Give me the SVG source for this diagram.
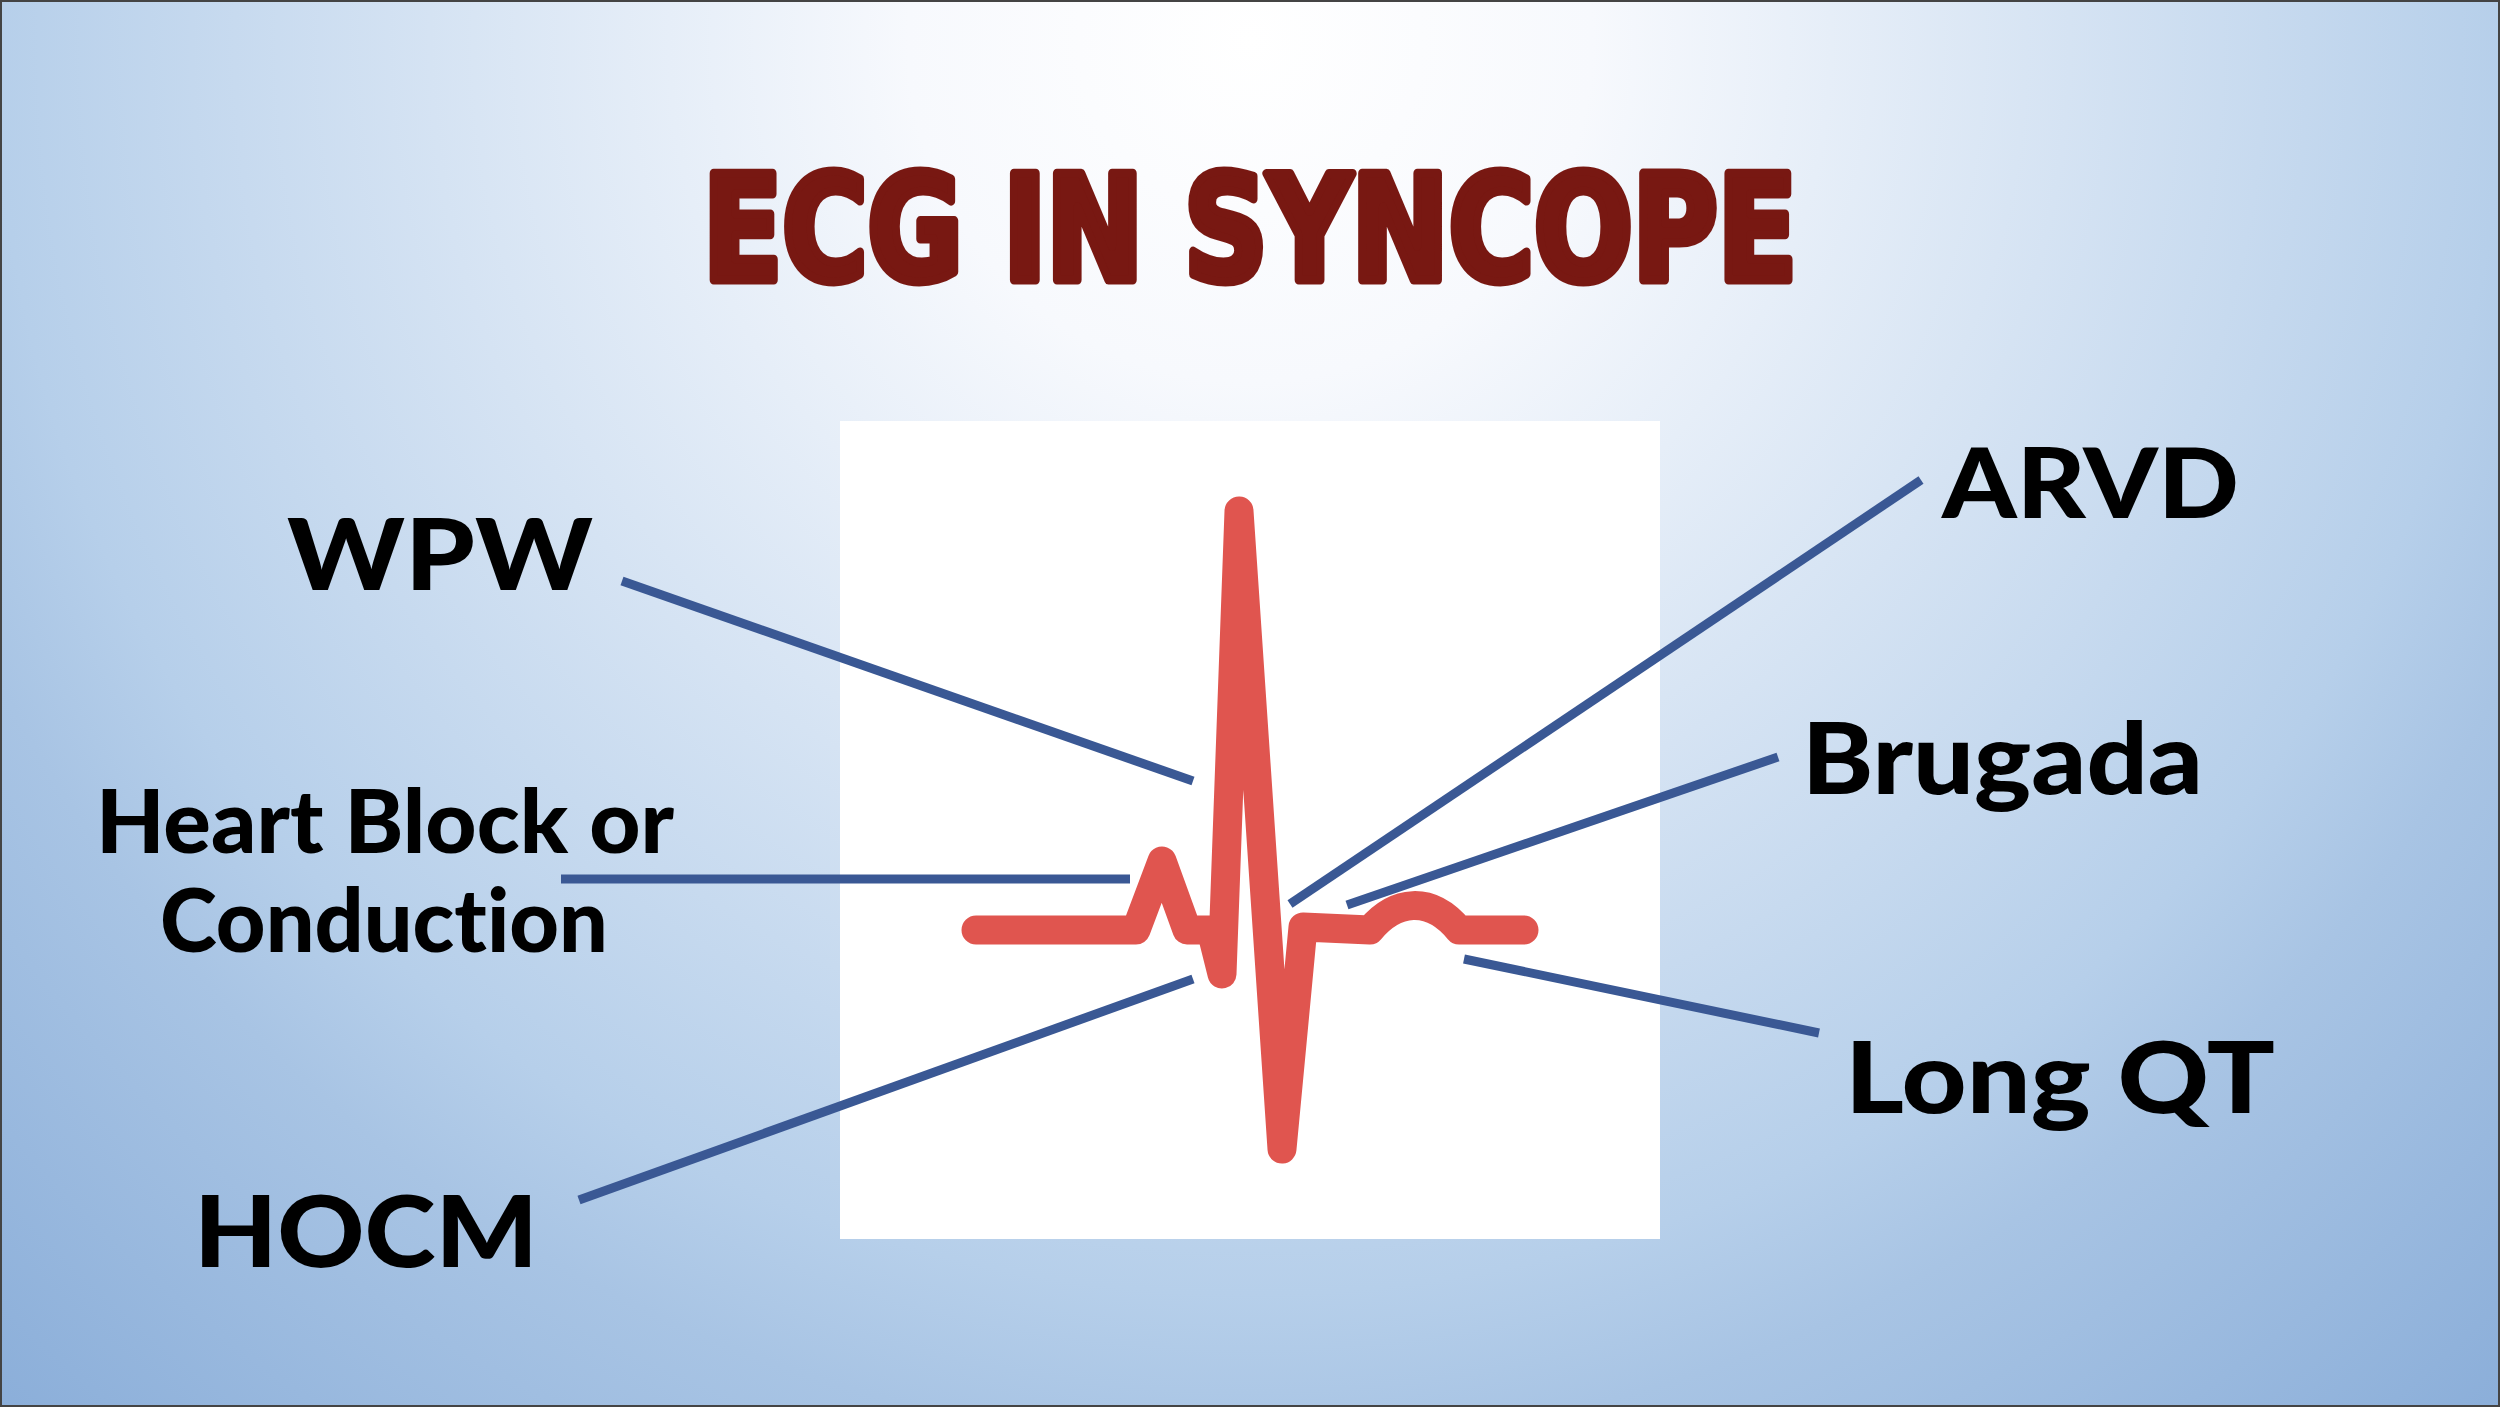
<svg xmlns="http://www.w3.org/2000/svg" width="2500" height="1407" viewBox="0 0 2500 1407">
<defs>
<radialGradient id="bg" gradientUnits="userSpaceOnUse" cx="1250" cy="40" r="1900">
<stop offset="0" stop-color="#ffffff"/>
<stop offset="0.18" stop-color="#f7f9fd"/>
<stop offset="0.66" stop-color="#b6cfea"/>
<stop offset="0.74" stop-color="#a8c4e4"/>
<stop offset="1" stop-color="#88acd8"/>
</radialGradient>
<style>
.lbl{font-family:"Lato","Open Sans","Liberation Sans",sans-serif;font-weight:900;fill:#000;font-variant-ligatures:none;}
.con{stroke:#3a5894;stroke-width:9;fill:none;}
.title{font-family:"DejaVu Sans Condensed","DejaVu Sans","Liberation Sans",sans-serif;font-weight:bold;fill:#781812;stroke:#781812;stroke-width:9;stroke-linejoin:round;}
</style>
</defs>
<rect x="0" y="0" width="2500" height="1407" fill="url(#bg)"/>
<rect x="1" y="1" width="2498" height="1405" fill="none" stroke="#444" stroke-width="2"/>
<text class="title" x="703" y="280" font-size="146" textLength="1094" lengthAdjust="spacingAndGlyphs">ECG IN SYNCOPE</text>
<g id="ecg-panel">
<rect x="840" y="421" width="820" height="818" fill="#ffffff"/>
<path d="M976,930 L1136,930 L1162,861 L1187,930 L1211,930 L1222,974 L1239,511 L1282,1149 L1303,927 L1370,930 C1395,900 1430,895 1459,930 L1524,930" fill="none" stroke="#e0554f" stroke-width="29" stroke-linejoin="round" stroke-linecap="round"/>
</g>
<g id="connectors">
<line class="con" x1="622" y1="581" x2="1193" y2="781"/>
<line class="con" x1="561" y1="879" x2="1130" y2="879"/>
<line class="con" x1="579" y1="1200" x2="1193" y2="979"/>
<line class="con" x1="1290" y1="904" x2="1921" y2="480"/>
<line class="con" x1="1347" y1="905" x2="1778" y2="757"/>
<line class="con" x1="1464" y1="959" x2="1819" y2="1033"/>
</g>
<g id="wpw"><text class="lbl" x="287" y="590" font-size="100" textLength="306" lengthAdjust="spacingAndGlyphs">WPW</text></g>
<g id="heart-block"><text class="lbl" x="96" y="853" font-size="88" textLength="578" lengthAdjust="spacingAndGlyphs">Heart Block or</text><text class="lbl" x="160" y="952" font-size="88" textLength="448" lengthAdjust="spacingAndGlyphs">Conduction</text></g>
<g id="hocm"><text class="lbl" x="194" y="1267" font-size="100" textLength="344" lengthAdjust="spacingAndGlyphs">HOCM</text></g>
<g id="arvd"><text class="lbl" x="1942" y="518" font-size="98" textLength="297" lengthAdjust="spacingAndGlyphs">ARVD</text></g>
<g id="brugada"><text class="lbl" x="1802" y="794" font-size="100" textLength="401" lengthAdjust="spacingAndGlyphs">Brugada</text></g>
<g id="long-qt"><text class="lbl" x="1845" y="1113" font-size="100" textLength="430" lengthAdjust="spacingAndGlyphs">Long QT</text></g>
</svg>
